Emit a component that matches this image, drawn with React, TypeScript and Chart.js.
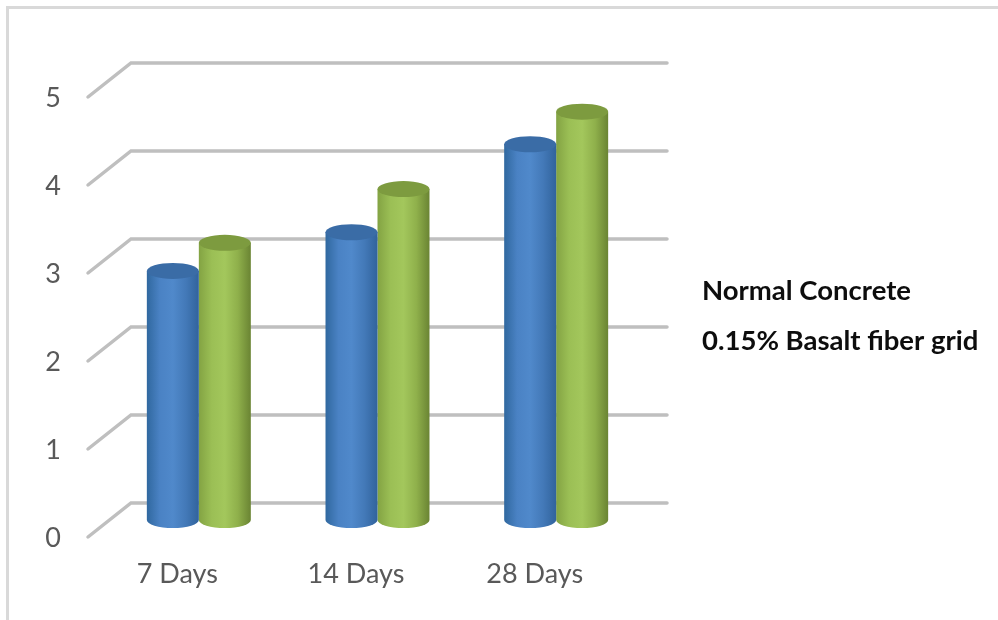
import React, { useEffect, useRef } from "react";
import { Chart, registerables } from "chart.js";

Chart.register(...registerables);

const categories = ["7 Days", "14 Days", "28 Days"];
const normalConcrete = [2.83, 3.27, 4.27];
const basaltGrid = [3.15, 3.76, 4.64];
const seriesNames = ["Normal Concrete", "0.15% Basalt fiber grid"];
const yTicks = [0, 1, 2, 3, 4, 5];

const FONT = "Lato, 'Open Sans', sans-serif";
const DEPTH_X = 43;
const DEPTH_Y = 34;
const ELLIPSE_RY = 8;

// Horizontal shading stops and lid colour for each cylinder series.
const shades = [
  { stops: ["#30689f", "#4a82c4", "#5089cb", "#4379b8", "#31639c"], lid: "#3a6ca6" },
  { stops: ["#83a343", "#9bbf55", "#a3c75c", "#8fb04b", "#6a8433"], lid: "#7d9b3f" },
];

const perspectivePlugin = {
  id: "perspective",
  beforeDraw(chart: any) {
    const { ctx } = chart;
    // Outer frame along the top and left edges
    ctx.save();
    ctx.strokeStyle = "#d9d9d9";
    ctx.lineWidth = 3;
    ctx.beginPath();
    ctx.moveTo(7.5, 620);
    ctx.lineTo(7.5, 7.5);
    ctx.lineTo(998, 7.5);
    ctx.stroke();
    ctx.restore();
  },
  beforeDatasetsDraw(chart: any) {
    const { ctx, chartArea, scales } = chart;
    // Floor and wall gridlines receding into the back plane
    ctx.save();
    ctx.strokeStyle = "#bfbfbf";
    ctx.lineWidth = 3.5;
    ctx.lineCap = "round";
    ctx.lineJoin = "miter";
    for (const t of yTicks) {
      const y = scales.y.getPixelForValue(t);
      ctx.beginPath();
      ctx.moveTo(chartArea.left, y);
      ctx.lineTo(chartArea.left + DEPTH_X, y - DEPTH_Y);
      ctx.lineTo(chartArea.right + DEPTH_X, y - DEPTH_Y);
      ctx.stroke();
    }
    // Value labels beside the front ends of the gridlines
    ctx.fillStyle = "#595959";
    ctx.font = `27px ${FONT}`;
    ctx.textAlign = "right";
    ctx.textBaseline = "alphabetic";
    for (const t of yTicks) {
      ctx.fillText(String(t), 61, scales.y.getPixelForValue(t) + 10);
    }
    ctx.restore();
  },
  beforeDatasetDraw(chart: any, args: any) {
    const { ctx } = chart;
    const shade = shades[args.index];
    // Cylinders stand halfway between the front and back planes
    const dx = DEPTH_X / 2;
    const dy = DEPTH_Y / 2;
    for (const bar of args.meta.data) {
      const p = bar.getProps(["x", "y", "base", "width"], true);
      const cx = p.x + dx;
      const rx = p.width / 2;
      const top = p.y - dy;
      const bottom = p.base - dy;
      const g = ctx.createLinearGradient(cx - rx, 0, cx + rx, 0);
      shade.stops.forEach((c: string, i: number) => g.addColorStop(i / (shade.stops.length - 1), c));
      ctx.save();
      ctx.fillStyle = g;
      ctx.beginPath();
      ctx.moveTo(cx - rx, top);
      ctx.lineTo(cx - rx, bottom);
      ctx.ellipse(cx, bottom, rx, ELLIPSE_RY, 0, Math.PI, 0, true);
      ctx.lineTo(cx + rx, top);
      ctx.closePath();
      ctx.fill();
      ctx.fillStyle = shade.lid;
      ctx.beginPath();
      ctx.ellipse(cx, top, rx, ELLIPSE_RY, 0, 0, Math.PI * 2);
      ctx.fill();
      ctx.restore();
    }
    return false;
  },
  afterDraw(chart: any) {
    const { ctx } = chart;
    // Series names, listed without colour keys
    ctx.save();
    ctx.fillStyle = "#0d0d0d";
    ctx.font = `bold 27.5px ${FONT}`;
    ctx.textAlign = "left";
    ctx.textBaseline = "middle";
    chart.data.datasets.forEach((d: any, i: number) => {
      ctx.fillText(d.label, 702, 291 + i * 50);
    });
    ctx.restore();
  },
};

export default function App() {
  const ref = useRef<HTMLCanvasElement | null>(null);
  useEffect(() => {
    if (!ref.current) return;
    const chart = new Chart(ref.current, {
      type: "bar",
      data: {
        labels: categories,
        datasets: [
          { label: seriesNames[0], data: normalConcrete, backgroundColor: "#4a82c4" },
          { label: seriesNames[1], data: basaltGrid, backgroundColor: "#9bbf55" },
        ],
      },
      options: {
        responsive: false,
        animation: false,
        layout: { padding: { top: 97, right: 374, left: 0, bottom: 0 } },
        datasets: { bar: { categoryPercentage: 0.582, barPercentage: 1 } },
        plugins: { legend: { display: false }, title: { display: false }, tooltip: { enabled: false } },
        scales: {
          x: {
            grid: { display: false },
            border: { display: false },
            ticks: { color: "#595959", font: { family: FONT, size: 27 }, padding: 13, maxRotation: 0 },
            afterFit(s: any) { s.height = 83; },
          },
          y: {
            min: 0,
            max: 5,
            grid: { display: false },
            border: { display: false },
            afterBuildTicks(s: any) { s.ticks = yTicks.map((value) => ({ value })); },
            ticks: { display: false },
            afterFit(s: any) { s.width = 88; },
          },
        },
      },
      plugins: [perspectivePlugin],
    } as any);
    return () => chart.destroy();
  }, []);
  return (
    <div style={{ position: "absolute", left: 0, top: 0, width: 998, height: 620, background: "#fff" }}>
      <canvas ref={ref} width={998} height={620} style={{ display: "block" }} />
    </div>
  );
}
